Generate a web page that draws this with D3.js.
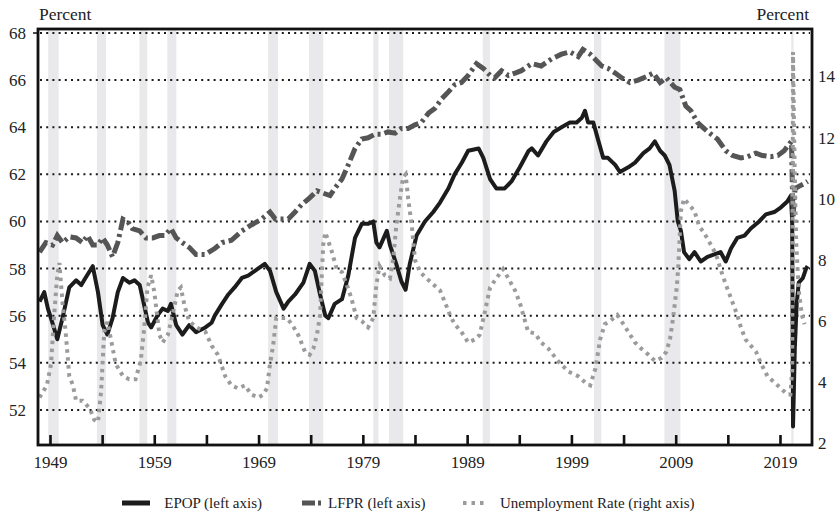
<!DOCTYPE html>
<html>
<head>
<meta charset="utf-8">
<script src="https://cdn.jsdelivr.net/npm/d3@7"></script>
<style>
  body { margin: 0; background: #fff; }
</style>
</head>
<body>
<div id="chart"></div>
<script>
// values, [decimal year, percent]
const epop = [
  [1948.0,56.6],[1948.45,57.0],[1948.8,56.3],[1949.3,55.6],[1949.7,55.0],[1950.2,55.9],[1950.85,57.2],
  [1951.5,57.5],[1952.0,57.3],[1952.4,57.6],[1953.1,58.1],[1953.6,57.0],[1954.05,55.6],[1954.5,55.2],
  [1955.0,55.9],[1955.5,57.0],[1956.0,57.6],[1956.6,57.4],[1957.1,57.5],[1957.6,57.3],[1957.9,56.7],
  [1958.4,55.7],[1958.7,55.5],[1959.3,56.0],[1959.8,56.3],[1960.3,56.2],[1960.6,56.5],[1961.1,55.6],
  [1961.7,55.2],[1962.35,55.6],[1963.0,55.3],[1963.9,55.5],[1964.5,55.7],[1964.8,56.0],[1965.5,56.5],
  [1966.1,56.9],[1966.7,57.2],[1967.4,57.6],[1968.0,57.7],[1968.65,57.9],[1969.6,58.2],[1970.1,57.9],
  [1970.7,57.0],[1971.4,56.3],[1971.85,56.6],[1972.5,56.9],[1973.3,57.4],[1973.9,58.2],[1974.4,57.9],
  [1974.9,56.9],[1975.4,56.0],[1975.7,55.9],[1976.3,56.5],[1977.0,56.7],[1977.6,57.7],[1978.25,59.3],
  [1978.9,59.9],[1979.5,59.9],[1980.0,60.0],[1980.3,59.1],[1980.6,58.9],[1981.3,59.6],[1981.6,59.0],
  [1982.2,58.2],[1982.7,57.45],[1983.1,57.1],[1983.5,58.2],[1984.15,59.4],[1984.95,60.0],[1985.75,60.4],
  [1986.4,60.8],[1987.2,61.4],[1987.8,62.0],[1988.5,62.5],[1989.1,63.0],[1990.1,63.1],[1990.55,62.7],
  [1991.2,61.8],[1991.8,61.4],[1992.6,61.4],[1993.25,61.7],[1994.05,62.3],[1994.9,63.0],[1995.2,63.1],
  [1995.8,62.8],[1996.6,63.4],[1997.3,63.8],[1998.05,64.0],[1998.85,64.2],[1999.5,64.2],[2000.0,64.4],
  [2000.3,64.7],[2000.6,64.2],[2001.1,64.2],[2001.6,63.4],[2002.05,62.7],[2002.5,62.7],[2003.2,62.4],
  [2003.65,62.1],[2004.45,62.3],[2005.1,62.5],[2005.9,62.9],[2006.5,63.1],[2007.0,63.4],[2007.5,63.0],
  [2007.95,62.8],[2008.4,62.4],[2008.9,61.3],[2009.2,60.0],[2009.5,59.6],[2009.8,58.7],[2010.3,58.4],
  [2010.8,58.7],[2011.4,58.3],[2012.05,58.5],[2012.7,58.6],[2013.3,58.7],[2013.8,58.3],[2014.3,58.85],
  [2014.9,59.3],[2015.6,59.4],[2016.2,59.7],[2017.0,60.0],[2017.65,60.3],[2018.45,60.4],[2019.1,60.6],
  [2019.7,60.85],[2020.05,61.1],[2020.17,60.0],[2020.25,51.3],[2020.33,52.8],[2020.42,54.6],[2020.6,56.5],
  [2020.8,57.4],[2021.2,57.6],[2021.5,58.0],[2021.65,58.1]
];

const lfpr = [
  [1948.0,58.7],[1948.6,59.1],[1949.25,59.0],[1949.7,59.4],[1950.2,59.1],[1950.85,59.35],[1951.5,59.3],
  [1952.1,59.1],[1952.6,59.4],[1953.1,59.0],[1953.6,59.0],[1954.05,59.3],[1954.5,59.0],[1955.0,58.5],
  [1955.5,59.1],[1956.0,60.1],[1956.45,60.0],[1956.9,59.7],[1957.6,59.6],[1958.2,59.3],[1958.85,59.3],
  [1959.5,59.4],[1960.0,59.4],[1960.6,59.7],[1961.1,59.3],[1961.7,59.1],[1962.35,58.9],[1963.0,58.6],
  [1963.9,58.6],[1964.8,58.85],[1965.5,59.1],[1966.4,59.2],[1967.4,59.6],[1968.3,59.85],[1969.3,60.1],
  [1970.1,60.4],[1970.6,60.1],[1971.2,60.1],[1971.85,60.1],[1972.5,60.4],[1973.1,60.7],[1973.9,61.0],
  [1974.6,61.3],[1975.2,61.2],[1975.85,61.1],[1976.3,61.4],[1977.0,61.8],[1977.6,62.4],[1978.25,63.1],
  [1978.9,63.5],[1979.5,63.55],[1980.15,63.7],[1980.8,63.7],[1981.4,63.8],[1982.1,63.75],[1982.7,63.95],
  [1983.35,63.95],[1984.0,64.1],[1984.6,64.2],[1985.3,64.6],[1985.9,64.8],[1986.55,65.2],[1987.2,65.5],
  [1987.8,65.8],[1988.45,65.9],[1989.1,66.2],[1989.9,66.7],[1990.55,66.5],[1991.2,66.2],[1991.65,66.1],
  [1992.3,66.4],[1992.95,66.2],[1993.6,66.3],[1994.2,66.4],[1995.2,66.7],[1996.1,66.6],[1997.1,66.9],
  [1998.05,67.1],[1998.85,67.2],[1999.65,67.0],[2000.1,67.3],[2000.8,67.1],[2001.25,66.9],[2001.9,66.6],
  [2002.5,66.5],[2003.2,66.3],[2003.8,66.1],[2004.6,65.9],[2005.4,66.0],[2006.2,66.15],[2006.85,66.3],
  [2007.5,65.9],[2008.1,66.1],[2008.9,65.7],[2009.4,65.6],[2009.97,64.9],[2010.46,64.7],[2011.1,64.2],
  [2011.7,63.95],[2012.4,63.7],[2013.0,63.5],[2013.8,63.0],[2014.45,62.8],[2015.25,62.7],[2015.9,62.75],
  [2016.7,62.9],[2017.3,62.8],[2018.1,62.75],[2018.8,62.8],[2019.4,63.0],[2019.9,63.3],[2020.1,63.4],
  [2020.25,60.2],[2020.45,61.4],[2020.85,61.5],[2021.3,61.6],[2021.65,61.7]
];

const unrate = [
  [1948.0,3.5],[1948.7,3.9],[1949.1,4.6],[1949.4,6.2],[1949.7,7.5],[1949.9,7.9],[1950.2,6.6],[1950.5,5.65],
  [1950.85,4.2],[1951.2,3.9],[1951.5,3.4],[1952.1,3.4],[1952.8,3.15],[1953.25,2.77],[1953.6,2.7],
  [1953.9,3.7],[1954.2,5.65],[1954.5,5.98],[1954.85,5.4],[1955.3,4.6],[1956.0,4.2],[1956.6,4.1],
  [1957.2,4.1],[1957.7,4.7],[1958.0,5.65],[1958.35,7.1],[1958.7,7.5],[1959.0,6.96],[1959.5,5.55],
  [1959.8,5.3],[1960.3,5.55],[1960.75,6.2],[1961.25,7.0],[1961.55,7.1],[1961.9,6.5],[1962.35,6.0],
  [1963.0,5.8],[1963.9,5.65],[1964.5,5.2],[1965.1,4.9],[1965.8,4.2],[1966.4,3.9],[1967.05,3.8],
  [1967.7,3.9],[1968.3,3.6],[1969.0,3.5],[1969.45,3.6],[1969.8,3.8],[1970.1,4.6],[1970.4,5.2],
  [1970.7,6.1],[1971.2,6.1],[1971.7,6.1],[1972.2,5.9],[1972.8,5.55],[1973.45,5.0],[1973.9,4.9],
  [1974.25,5.1],[1974.6,5.55],[1974.9,6.2],[1975.05,7.4],[1975.2,8.5],[1975.4,8.9],[1975.7,8.6],
  [1976.0,8.3],[1976.5,7.7],[1977.0,7.6],[1977.45,7.2],[1977.9,6.75],[1978.4,6.1],[1978.9,6.0],
  [1979.5,5.8],[1980.0,6.1],[1980.3,7.2],[1980.6,7.8],[1981.1,7.5],[1981.6,7.4],[1981.9,8.0],
  [1982.2,9.1],[1982.55,10.0],[1982.85,10.7],[1983.1,10.8],[1983.35,10.0],[1983.7,9.1],[1984.0,8.0],
  [1984.5,7.6],[1985.1,7.4],[1985.75,7.2],[1986.4,7.0],[1986.9,6.6],[1987.35,6.2],[1987.8,5.9],
  [1988.45,5.65],[1989.1,5.3],[1989.75,5.4],[1990.2,5.55],[1990.7,6.3],[1991.2,7.1],[1991.8,7.4],
  [1992.45,7.7],[1992.95,7.4],[1993.6,7.0],[1994.05,6.6],[1994.85,5.65],[1995.5,5.6],[1996.1,5.3],
  [1996.8,5.1],[1997.7,4.7],[1998.7,4.35],[1999.65,4.2],[2000.3,4.0],[2000.8,3.9],[2001.3,4.45],
  [2001.75,5.4],[2002.2,5.9],[2002.7,6.0],[2003.4,6.2],[2003.8,6.0],[2004.45,5.65],[2005.1,5.3],
  [2005.7,5.1],[2006.4,4.9],[2007.0,4.7],[2007.65,4.8],[2008.1,5.0],[2008.45,5.4],[2008.75,6.1],
  [2009.1,7.1],[2009.25,7.8],[2009.5,9.6],[2009.8,10.0],[2010.3,9.8],[2010.8,9.6],[2011.25,9.1],
  [2011.7,8.9],[2012.2,8.6],[2012.85,8.2],[2013.3,7.7],[2013.8,7.2],[2014.3,6.75],[2014.9,6.2],
  [2015.25,5.8],[2015.7,5.4],[2016.2,5.2],[2016.7,5.0],[2017.2,4.6],[2017.8,4.2],[2018.45,4.0],
  [2019.1,3.8],[2019.7,3.6],[2020.0,3.6],[2020.17,4.4],[2020.25,14.8],[2020.4,11.1],[2020.55,8.6],
  [2020.8,7.0],[2021.1,6.2],[2021.35,5.9]
];

// NBER recessions, start / end as decimal years
const recessions = [
  [1948.83,1949.83],[1953.5,1954.37],[1957.58,1958.33],[1960.25,1961.12],[1969.92,1970.87],
  [1973.83,1975.2],[1980.0,1980.5],[1981.5,1982.87],[1990.5,1991.2],[2001.17,2001.87],
  [2007.92,2009.45],[2020.08,2020.3]
];

const tickYears = d3.range(1949, 2020, 5);
const labelYears = [1949, 1959, 1969, 1979, 1989, 1999, 2009, 2019];
const leftTicks = [52, 54, 56, 58, 60, 62, 64, 66, 68];
const rightTicks = [2, 4, 6, 8, 10, 12, 14];

const legendItems = ['EPOP (left axis)', 'LFPR (left axis)', 'Unemployment Rate (right axis)'];

const width = 836;
const height = 525;
const m = { left: 38, right: 812, top: 29, bottom: 445 };
const font = '"Liberation Serif", "Times New Roman", serif';

const x = d3.scaleLinear().domain([1947.85, 2022.07]).range([m.left, m.right]);
const yLeft = d3.scaleLinear().domain([50.51, 68.17]).range([m.bottom, m.top]);
const yRight = d3.scaleLinear().domain([1.95, 15.55]).range([m.bottom, m.top]);

const svg = d3.select('#chart').append('svg')
  .attr('width', width)
  .attr('height', height);

// recession shading
svg.append('g').selectAll('rect')
  .data(recessions)
  .join('rect')
  .attr('x', d => x(d[0]))
  .attr('width', d => x(d[1]) - x(d[0]))
  .attr('y', m.top)
  .attr('height', m.bottom - m.top)
  .attr('fill', '#e9e9ec');

// dotted grid
svg.append('g').selectAll('line')
  .data(leftTicks)
  .join('line')
  .attr('x1', m.left + 2)
  .attr('x2', m.right - 2)
  .attr('y1', d => yLeft(d))
  .attr('y2', d => yLeft(d))
  .attr('stroke', '#1a1a1a')
  .attr('stroke-width', 2)
  .attr('stroke-dasharray', '2,4.2');

const lineL = d3.line().x(d => x(d[0])).y(d => yLeft(d[1]));
const lineR = d3.line().x(d => x(d[0])).y(d => yRight(d[1]));

svg.append('path')
  .attr('d', lineL(epop))
  .attr('fill', 'none')
  .attr('stroke', '#1c1c1c')
  .attr('stroke-width', 4)
  .attr('stroke-linejoin', 'round');

svg.append('path')
  .attr('d', lineL(lfpr))
  .attr('fill', 'none')
  .attr('stroke', '#555555')
  .attr('stroke-width', 5)
  .attr('stroke-dasharray', '13,4,3,4');

svg.append('path')
  .attr('d', lineR(unrate))
  .attr('fill', 'none')
  .attr('stroke', '#9b9b9b')
  .attr('stroke-width', 4)
  .attr('stroke-dasharray', '3.5,4.5');

// frame
svg.append('rect')
  .attr('x', m.left)
  .attr('y', m.top)
  .attr('width', m.right - m.left)
  .attr('height', m.bottom - m.top)
  .attr('fill', 'none')
  .attr('stroke', '#111')
  .attr('stroke-width', 2.8);

svg.append('line')
  .attr('x1', m.left - 5).attr('x2', m.left)
  .attr('y1', yLeft(68)).attr('y2', yLeft(68))
  .attr('stroke', '#111').attr('stroke-width', 1.5);

// axes
const xAxis = svg.append('g')
  .attr('transform', `translate(0,${m.bottom})`)
  .call(d3.axisBottom(x)
    .tickValues(tickYears)
    .tickSize(-10)
    .tickPadding(11)
    .tickFormat(d => labelYears.includes(d) ? d : ''));

const yAxisL = svg.append('g')
  .attr('transform', `translate(${m.left},0)`)
  .call(d3.axisLeft(yLeft).tickValues(leftTicks).tickSize(0).tickPadding(12));

const yAxisR = svg.append('g')
  .attr('transform', `translate(${m.right},0)`)
  .call(d3.axisRight(yRight).tickValues(rightTicks).tickSize(0).tickPadding(6));

[xAxis, yAxisL, yAxisR].forEach(g => {
  g.select('.domain').remove();
  g.attr('font-family', font).attr('font-size', 17);
  g.selectAll('text').attr('fill', '#222');
});
xAxis.selectAll('.tick line').attr('stroke', '#111').attr('stroke-width', 2.6);

svg.append('text')
  .attr('x', 39).attr('y', 19.5)
  .attr('font-family', font).attr('font-size', 17.5).attr('fill', '#222')
  .text('Percent');

svg.append('text')
  .attr('x', 809).attr('y', 19.5)
  .attr('text-anchor', 'end')
  .attr('font-family', font).attr('font-size', 17.5).attr('fill', '#222')
  .text('Percent');

// legend
const legend = svg.append('g')
  .attr('font-family', font)
  .attr('font-size', 15)
  .attr('fill', '#222');
const ly = 503;

legend.append('line')
  .attr('x1', 122).attr('x2', 150).attr('y1', ly).attr('y2', ly)
  .attr('stroke', '#1c1c1c').attr('stroke-width', 5);
legend.append('text').attr('x', 262).attr('y', ly + 5).attr('text-anchor', 'end').text(legendItems[0]);

legend.append('line')
  .attr('x1', 302).attr('x2', 321).attr('y1', ly).attr('y2', ly)
  .attr('stroke', '#555555').attr('stroke-width', 5)
  .attr('stroke-dasharray', '13,3,3,10');
legend.append('text').attr('x', 328).attr('y', ly + 5).text(legendItems[1]);

legend.append('line')
  .attr('x1', 463).attr('x2', 488).attr('y1', ly).attr('y2', ly)
  .attr('stroke', '#9b9b9b').attr('stroke-width', 4)
  .attr('stroke-dasharray', '3.5,5');
legend.append('text').attr('x', 500).attr('y', ly + 5).text(legendItems[2]);
</script>
</body>
</html>
